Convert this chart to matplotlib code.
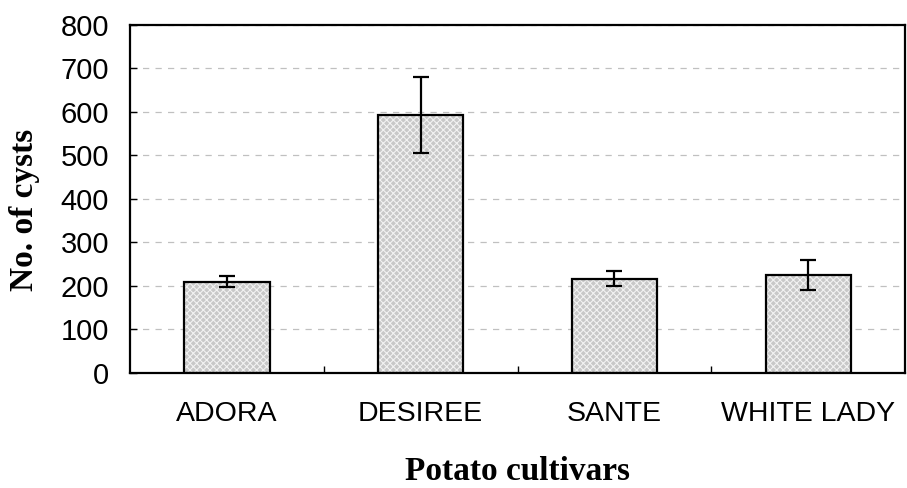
import matplotlib.pyplot as plt

cultivars = ['ADORA', 'DESIREE', 'SANTE', 'WHITE LADY']
cysts = [210, 593, 217, 225]
err = [12, 88, 18, 35]

fig = plt.figure(figsize=(9.07, 4.88), dpi=100)
ax = fig.add_axes([0.1433, 0.2357, 0.8547, 0.7131])

x = list(range(len(cultivars)))

# patterned fill, then black outline on top
plt.rcParams['hatch.linewidth'] = 0.8
ax.bar(x, cysts, width=0.44, color='#c8c8c8', edgecolor='#f2f2f2',
       hatch='xxxxx', linewidth=0, zorder=2)
ax.bar(x, cysts, width=0.44, fill=False, edgecolor='black', linewidth=1.6, zorder=3)
ax.errorbar(x, cysts, yerr=err, fmt='none', ecolor='black', elinewidth=1.6,
            capsize=6, capthick=1.6, zorder=4)

ax.set_xlim(-0.5, 3.5)
ax.set_ylim(0, 800)
ax.set_yticks(range(0, 801, 100))
ax.yaxis.grid(True, linestyle=(0, (5, 5)), color='#c0c0c0', linewidth=0.9, zorder=0)
ax.set_axisbelow(True)

ax.set_xticks([0.5, 1.5, 2.5])
ax.set_xticklabels([])
ax.set_xticks(x, minor=True)
ax.set_xticklabels(cultivars, minor=True, fontsize=20.5, family='Liberation Sans')
ax.tick_params(axis='x', which='major', direction='in', length=5, width=1)
ax.tick_params(axis='x', which='minor', length=0, pad=20)
ax.tick_params(axis='y', direction='in', length=5, width=1, labelsize=21, pad=15)
for lbl in ax.get_yticklabels():
    lbl.set_family('Liberation Sans')

for s in ax.spines.values():
    s.set_linewidth(1.6)

ax.set_xlabel('Potato cultivars', family='Liberation Serif', fontweight='bold',
              fontsize=24)
ax.set_ylabel('No. of cysts', family='Liberation Serif', fontweight='bold',
              fontsize=24)
ax.xaxis.set_label_coords(0.5, -0.24)
ax.yaxis.set_label_coords(-0.116, 0.47)

fig.savefig('out.png', dpi=100)
